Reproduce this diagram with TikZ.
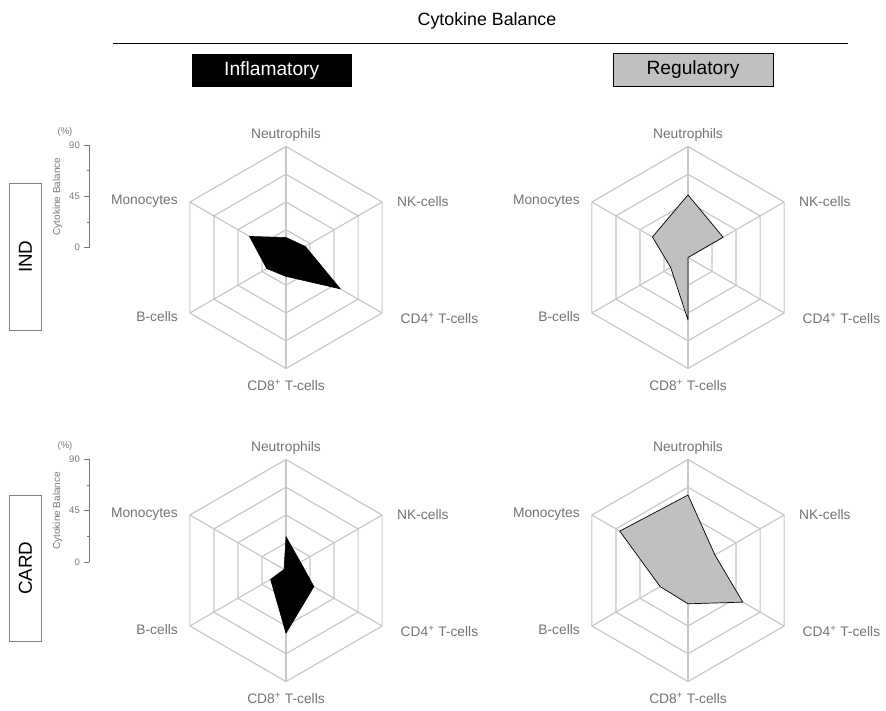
\documentclass[tikz,border=0pt]{standalone}
\usepackage{fontspec}
\setmainfont{Liberation Sans}
\definecolor{gridc}{RGB}{200,200,200}
\definecolor{labc}{RGB}{115,115,115}
\definecolor{axc}{RGB}{120,120,120}
\definecolor{regfill}{RGB}{192,192,192}
\definecolor{boxc}{RGB}{130,130,130}
\tikzset{
  gridline/.style={draw=gridc, line width=1.2pt},
  lab/.style={font=\fontsize{13.8}{13.8}\selectfont, text=labc, inner sep=0pt},
  axlab/.style={font=\fontsize{9.5}{9.5}\selectfont, text=axc, inner sep=0pt},
  inflam/.style={fill=black, draw=black, line width=0.6pt, line join=round},
  regul/.style={fill=regfill, draw=black, line width=0.7pt, line join=round},
  groupbox/.style={draw=boxc, line width=0.8pt, rotate=90, minimum width=146.7pt, minimum height=32pt, inner sep=0pt, font=\fontsize{18.8}{18.8}\selectfont},
  headbox/.style={minimum width=160pt, minimum height=33.3pt, inner sep=0pt, font=\fontsize{19.2}{19.2}\selectfont}
}
\newcommand{\radargrid}[3]{%
\begin{scope}[shift={(#2,-#3)}]
 \foreach \k in {1,2,3,4}{%
   \draw[gridline] (90:{\k*27.75}) -- (30:{\k*27.75}) -- (-30:{\k*27.75}) -- (-90:{\k*27.75}) -- (210:{\k*27.75}) -- (150:{\k*27.75}) -- cycle;}
 \foreach \a in {90,30,-30,-90,210,150}{\draw[gridline] (0,0) -- (\a:111);}
 \node[lab] (#1N) at (0,122.5) {Neutrophils};
 \node[lab,anchor=west] (#1NK) at (111,55.5) {NK-cells};
 \node[lab,anchor=west] (#1CDfour) at (114.5,-60.5) {CD4\textsuperscript{+} T-cells};
 \node[lab] (#1CDeight) at (0,-128) {CD8\textsuperscript{+} T-cells};
 \node[lab,anchor=east] (#1B) at (-108,-59) {B-cells};
 \node[lab,anchor=east] (#1M) at (-108,56) {Monocytes};
\end{scope}}
% #1 cx, #2 cy, #3 style, #4..#9 values: N, NK, CD4, CD8, B, Mono
\newcommand{\radarpoly}[9]{%
\begin{scope}[shift={(#1,-#2)}]
 \draw[#3] (90:{#4*111}) -- (30:{#5*111}) -- (-30:{#6*111}) -- (-90:{#7*111}) -- (210:{#8*111}) -- (150:{#9*111}) -- cycle;
\end{scope}}
\newcommand{\scaleaxis}[2]{% #1 prefix, #2 y of the 90 tick
\begin{scope}[shift={(0,-#2)}]
 \draw[axc, line width=0.7pt] (89,0) -- (89,-102.7);
 \foreach \t in {0,51.35,102.7}{\draw[axc, line width=0.7pt] (89,-\t) -- (84.3,-\t);}
 \foreach \t in {25.675,77.025}{\draw[axc, line width=0.7pt] (89,-\t) -- (87,-\t);}
 \node[axlab,anchor=east] (#1t90) at (80,0) {90};
 \node[axlab,anchor=east] (#1t45) at (80,-51.35) {45};
 \node[axlab,anchor=east] (#1t0) at (80,-102.7) {0};
 \node[axlab] (#1pct) at (65,13.3) {(\%)};
 \node[axlab,rotate=90,font=\fontsize{10}{10}\selectfont] (#1title) at (57.5,-51.5) {Cytokine Balance};
\end{scope}}
\begin{document}
\begin{tikzpicture}[x=1pt,y=1pt]
\useasboundingbox (0,-711) rectangle (886,0);
% header
\node[inner sep=0pt, font=\fontsize{17.8}{17.8}\selectfont] (title) at (487,-20.5) {Cytokine Balance};
\coordinate (hl) at (113,-43.5);
\coordinate (hr) at (848,-43.5);
\draw[black, line width=0.9pt] (hl) -- (hr);
\node[headbox, fill=black, text=white] (inflbox) at (271.7,-70.7) {Inflamatory};
\node[headbox, fill=regfill, draw=black, line width=0.8pt, text=black] (regbox) at (693,-70) {Regulatory};
% row labels
\node[groupbox] (ind) at (25.3,-256.7) {IND};
\node[groupbox] (card) at (25.3,-568.3) {CARD};
% axes
\scaleaxis{a}{145}
\scaleaxis{b}{459.3}
% radar grids
\radargrid{tl}{286}{257.5}
\radargrid{tr}{688}{257.5}
\radargrid{bl}{286}{570.5}
\radargrid{br}{688}{570.5}
% data
\radarpoly{286}{257.5}{inflam}{0.18}{0.20}{0.565}{0.17}{0.20}{0.38}
\radarpoly{688}{257.5}{regul}{0.564}{0.365}{0}{0.564}{0.18}{0.37}
\radarpoly{286}{570.5}{inflam}{0.305}{0.15}{0.29}{0.565}{0.16}{0.02}
\radarpoly{688}{570.5}{regul}{0.68}{0.28}{0.57}{0.30}{0.29}{0.71}
\end{tikzpicture}
\end{document}
